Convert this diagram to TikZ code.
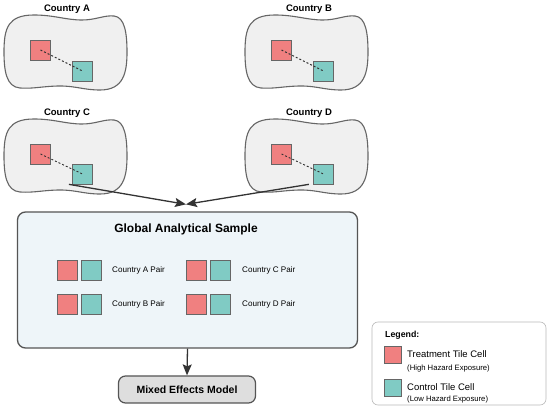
\documentclass[tikz,border=0pt]{standalone}
\usepackage{fontspec}
\setmainfont{Liberation Sans}
\usetikzlibrary{calc,arrows.meta}
\definecolor{redc}{HTML}{F08080}
\definecolor{tealc}{HTML}{80CBC4}
\definecolor{blobfill}{HTML}{F0F0F0}
\definecolor{blobline}{HTML}{666666}
\definecolor{gsfill}{HTML}{EEF5F9}
\definecolor{darkline}{HTML}{555555}
\definecolor{arrowc}{HTML}{333333}
\tikzset{
  blobshape/.pic={
    \draw[draw=blobline, fill=blobfill, line width=1.1pt]
      (0,38) .. controls (0,14) and (4,1) .. (30,1)
      .. controls (50,1) and (62,6) .. (78,6)
      .. controls (92,6) and (100,1) .. (110,2)
      .. controls (121,3) and (123,20) .. (123,38)
      .. controls (123,58) and (120,76) .. (96,76)
      .. controls (80,76) and (72,72) .. (56,72)
      .. controls (40,72) and (30,75) .. (16,74)
      .. controls (2,73) and (0,56) .. (0,38) -- cycle;
  },
  clabel/.style={font=\fontsize{9.5}{11}\selectfont\bfseries, inner sep=0pt},
  redsq/.style={draw=blobline, fill=redc, line width=0.7pt, minimum width=20.5pt, minimum height=20pt, inner sep=0pt},
  tealsq/.style={draw=blobline, fill=tealc, line width=0.7pt, minimum width=20.5pt, minimum height=20pt, inner sep=0pt},
  linkline/.style={draw=arrowc, dash pattern=on 2pt off 2pt, line width=0.9pt},
  arr/.style={draw=arrowc, line width=1.3pt, -{Stealth[length=11pt, width=9pt, inset=2pt]}},
  gbox/.style={draw=darkline, fill=gsfill, line width=1.3pt, rounded corners=8pt, inner sep=0pt},
  mbox/.style={draw=darkline, fill=black!13, line width=1.2pt, rounded corners=7pt, inner sep=0pt,
    font=\fontsize{10.5}{12}\selectfont\bfseries},
  pairtext/.style={anchor=west, inner sep=0pt, font=\fontsize{8.1}{10}\selectfont},
  lbox/.style={draw=black!27, fill=white, line width=0.6pt, rounded corners=6pt, inner sep=0pt},
  legsq/.style={draw=blobline, line width=0.7pt, minimum size=17pt, inner sep=0pt},
  legmain/.style={anchor=west, inner sep=0pt, font=\fontsize{9.5}{11}\selectfont},
  legsub/.style={anchor=west, inner sep=0pt, font=\fontsize{7.7}{9}\selectfont},
}
\begin{document}
\begin{tikzpicture}[x=1pt, y=-1pt]
\useasboundingbox (0,0) rectangle (550,409);
\fill[white] (0,0) rectangle (550,409);

% Country blobs
\pic at (4,14) {blobshape};
\pic at (245,14) {blobshape};
\pic at (4,118) {blobshape};
\pic at (245,118) {blobshape};

\node[clabel] (la) at (67,9) {Country A};
\node[clabel] (lb) at (309,9) {Country B};
\node[clabel] (lc) at (67,113) {Country C};
\node[clabel] (ld) at (309,113) {Country D};

% Squares
\node[redsq] (ra) at (40.5,50) {};
\node[tealsq] (ta) at (82.5,71) {};
\node[redsq] (rb) at (281.5,50) {};
\node[tealsq] (tb) at (323.5,71) {};
\node[redsq] (rc) at (40.5,154) {};
\node[tealsq] (tc) at (82.5,174) {};
\node[redsq] (rd) at (281.5,154) {};
\node[tealsq] (td) at (323.5,174) {};

\draw[linkline] (ra.center) -- (ta.center);
\draw[linkline] (rb.center) -- (tb.center);
\draw[linkline] (rc.center) -- (tc.center);
\draw[linkline] (rd.center) -- (td.center);

% Global analytical sample
\node[gbox, minimum width=340pt, minimum height=136pt] (gs) at (187.5,280) {};
\node[inner sep=0pt, font=\fontsize{12}{14}\selectfont\bfseries] (gt) at (186,229) {Global Analytical Sample};

\coordinate (join) at ($(gs.north)+(-1.5,-7)$);
\draw[arr] ($(tc.south west)+(-3,0)$) -- (join);
\draw[arr] ($(td.south west)+(-4,0)$) -- (join);

% pairs
\node[redsq] (p1r) at (67.5,270) {};
\node[tealsq] (p1t) at (91.5,270) {};
\node[pairtext] (p1x) at (112,270.5) {Country A Pair};
\node[redsq] (p2r) at (67.5,304) {};
\node[tealsq] (p2t) at (91.5,304) {};
\node[pairtext] (p2x) at (112,304.5) {Country B Pair};
\node[redsq] (p3r) at (196.5,270) {};
\node[tealsq] (p3t) at (220.5,270) {};
\node[pairtext] (p3x) at (242,270.5) {Country C Pair};
\node[redsq] (p4r) at (196.5,304) {};
\node[tealsq] (p4t) at (220.5,304) {};
\node[pairtext] (p4x) at (242,304.5) {Country D Pair};

% Mixed effects model
\node[mbox, minimum width=137pt, minimum height=27pt] (mm) at (187,389.5) {Mixed Effects Model};
\draw[arr] (gs.south) -- (mm.north);

% Legend
\node[lbox, minimum width=174pt, minimum height=83pt] (leg) at (459,363.5) {};
\node[anchor=west, inner sep=0pt, font=\fontsize{8.8}{10}\selectfont\bfseries] (lt) at (385,335) {Legend:};
\node[legsq, fill=redc] (lr) at (392.5,355) {};
\node[legmain] (lrt) at (407,354.5) {Treatment Tile Cell};
\node[legsub] (lrs) at (407,368.5) {(High Hazard Exposure)};
\node[legsq, fill=tealc] (ltq) at (392.5,387.5) {};
\node[legmain] (ltt) at (407,387) {Control Tile Cell};
\node[legsub] (lts) at (407,399.5) {(Low Hazard Exposure)};
\end{tikzpicture}
\end{document}
